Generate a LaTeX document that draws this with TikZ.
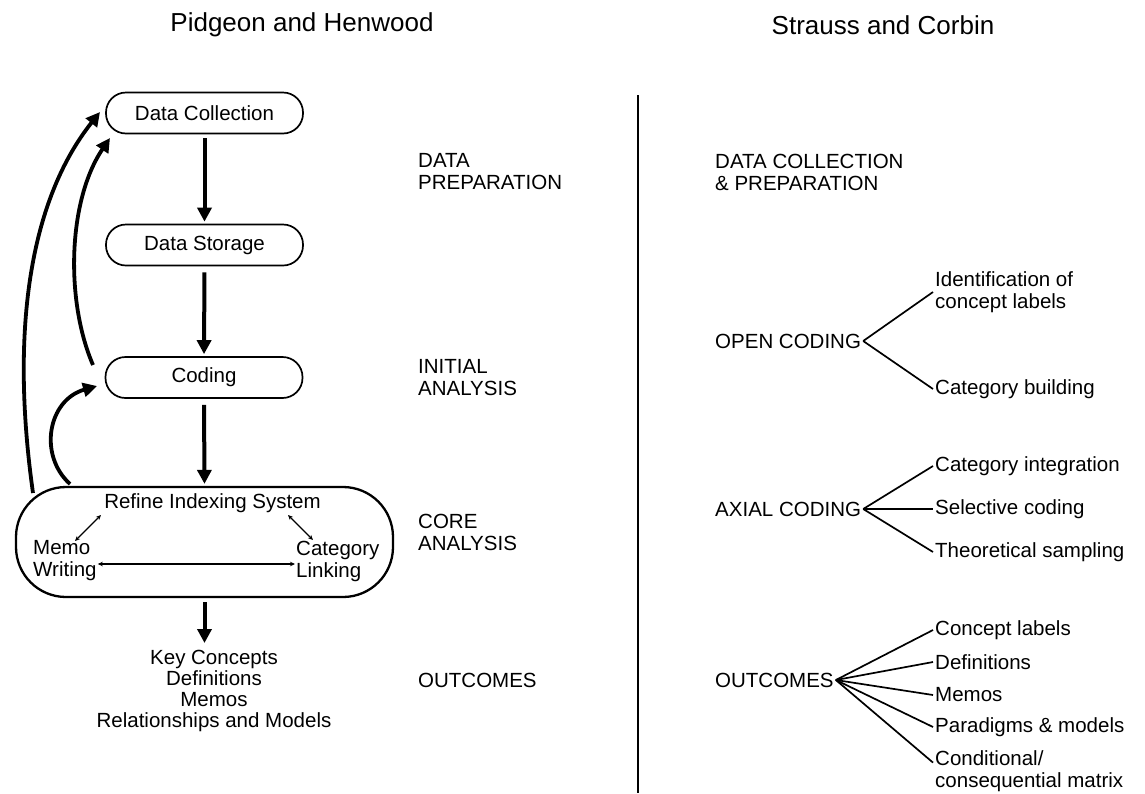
\documentclass[tikz,border=0pt]{standalone}
\usepackage{fontspec}
\setmainfont{Liberation Sans}
\usetikzlibrary{arrows.meta,calc}
\begin{document}
\begin{tikzpicture}[x=1pt,y=-1pt,
  every node/.style={font=\fontsize{20.5}{22}\selectfont, inner sep=1pt},
  pill/.style={draw, line width=1.7pt, rounded corners=20pt, minimum width=197pt, minimum height=41pt},
  bigarr/.style={line width=4pt, -{Triangle[length=14pt,width=14pt]}},
  curvarr/.style={line width=3.8pt, -{Triangle[length=14pt,width=14pt]}},
  thinarr/.style={line width=1.2pt, {Stealth[length=5pt,width=4.5pt]}-{Stealth[length=5pt,width=4.5pt]}},
  lbl/.style={anchor=west, align=left},
  rlbl/.style={anchor=west, align=left, inner sep=2pt},
  branch/.style={line width=1.7pt}
]
\useasboundingbox (0,0) rectangle (1145,793);
\fill[white] (0,0) rectangle (1145,793);

% titles
\node[font=\fontsize{26}{28}\selectfont] (t1) at (302,25) {Pidgeon and Henwood};
\node[font=\fontsize{26}{28}\selectfont] (t2) at (883,25) {Strauss and Corbin};

% divider
\coordinate (d1) at (638,95);
\coordinate (d2) at (638,793);
\draw[line width=1.4pt] (d1) -- (d2);

% left flow
\node[pill] (dc) at (204.5,113) {Data Collection};
\node[pill] (ds) at (204.5,245) {Data Storage};
\node[pill] (cod) at (204,377.5) {Coding};
\node[draw, line width=2.3pt, rounded corners=50pt, minimum width=377pt, minimum height=110pt] (core) at (204.5,542) {};

\draw[bigarr, shorten <=4pt, shorten >=2pt] (dc.south) -- (ds.north);
\draw[bigarr, shorten <=6pt, shorten >=2pt] (ds.south) -- (cod.north);
\draw[bigarr, shorten <=6pt, shorten >=2pt] (cod.south) -- (core.north);
\coordinate (oa) at (204.5,643);
\draw[bigarr, shorten <=4pt] (core.south) -- (oa);

\node[align=center, font=\fontsize{20.5}{21}\selectfont] (out) at (214,691) {Key Concepts\\Definitions\\Memos\\Relationships and Models};

% inside core
\node (ris) at (212.5,503) {Refine Indexing System};
\node[lbl] (memo) at (32,561) {Memo\\Writing};
\node[lbl] (cat) at (295,561) {Category\\Linking};
\coordinate (m1) at (75,541);
\coordinate (r1) at (101,515);
\coordinate (c1) at (313,540);
\coordinate (s1) at (288,515);
\draw[thinarr] (m1) -- (r1);
\draw[thinarr] (c1) -- (s1);
\draw[thinarr] ([yshift=-3pt]memo.east) -- ([yshift=-3pt]cat.west);

% feedback curves
\coordinate (o1) at (33,493);
\coordinate (o2) at (100,112);
\draw[curvarr] (o1) .. controls (10,330) and (30,200) .. (o2);
\coordinate (i1) at (93,365);
\coordinate (i2) at (110,138);
\draw[curvarr] (i1) .. controls (65,300) and (68,200) .. (i2);
\coordinate (s2) at (70,484);
\coordinate (s3) at (97,386);
\draw[curvarr] (s2) .. controls (38,455) and (48,400) .. (s3);

% middle labels
\node[lbl] (mp) at (417,172) {DATA\\PREPARATION};
\node[lbl] (mi) at (417,378) {INITIAL\\ANALYSIS};
\node[lbl] (mc) at (417,532) {CORE\\ANALYSIS};
\node[lbl] (mo) at (417,680) {OUTCOMES};

% right side
\node[lbl] (dcp) at (714,172) {DATA COLLECTION\\\& PREPARATION};

\node[rlbl] (oc) at (713,341) {OPEN CODING};
\node[rlbl] (idl) at (933,292) {Identification of\\concept labels};
\node[rlbl] (cb) at (933,389) {Category building};
\draw[branch] (oc.east) -- (idl.west);
\draw[branch] (oc.east) -- (cb.west);

\node[rlbl] (ac) at (713,509) {AXIAL CODING};
\node[rlbl] (ci) at (933,466) {Category integration};
\node[rlbl] (sc) at (933,509) {Selective coding};
\node[rlbl] (ts) at (933,552) {Theoretical sampling};
\draw[branch] (ac.east) -- (ci.west);
\draw[branch] (ac.east) -- (sc.west);
\draw[branch] (ac.east) -- (ts.west);

\node[rlbl] (ro) at (713,680) {OUTCOMES};
\node[rlbl] (cl) at (933,630) {Concept labels};
\node[rlbl] (df) at (933,662) {Definitions};
\node[rlbl] (mm) at (933,695) {Memos};
\node[rlbl] (pm) at (933,727) {Paradigms \& models};
\node[rlbl] (cm) at (933,771) {Conditional/\\consequential matrix};
\draw[branch] (ro.east) -- (cl.west);
\draw[branch] (ro.east) -- (df.west);
\draw[branch] (ro.east) -- (mm.west);
\draw[branch] (ro.east) -- (pm.west);
\draw[branch] (ro.east) -- (cm.175);
\end{tikzpicture}
\end{document}
